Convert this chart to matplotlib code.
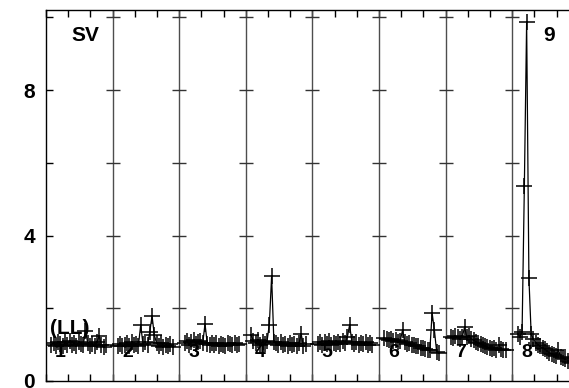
import numpy as np
import matplotlib
matplotlib.use("Agg")
import matplotlib.pyplot as plt

plt.rcParams['font.family'] = ['Liberation Sans', 'DejaVu Sans']
plt.rcParams['font.weight'] = 'bold'

# ---- data ----
seg_labels = ['1', '2', '3', '4', '5', '6', '7', '8']
seg1 = [1.00, 1.05, 0.97, 1.08, 1.02, 0.95, 1.06, 1.00, 1.10, 0.98, 1.04, 0.96, 1.07,
        1.01, 0.99, 1.37, 1.05, 0.97, 1.03, 0.95, 1.06, 1.24, 0.98, 0.94, 1.00]
seg2 = [0.97, 1.02, 0.95, 1.00, 1.04, 0.96, 1.06, 0.99, 1.03, 0.97, 1.54, 1.02, 1.08,
        0.98, 1.35, 1.79, 1.26, 1.04, 0.96, 1.05, 0.93, 0.99, 0.95, 1.01, 0.94]
seg3 = [1.05, 1.10, 1.00, 1.08, 1.12, 1.02, 1.07, 1.11, 1.04, 1.57, 1.03, 0.98, 1.05,
        0.99, 1.04, 0.97, 1.03, 1.00, 0.96, 1.05, 1.01, 0.98, 1.04, 1.00, 1.02]
seg4 = [1.26, 1.10, 1.05, 1.12, 1.00, 1.08, 1.03, 1.10, 1.55, 2.88, 1.08, 1.04, 0.98,
        1.06, 1.00, 1.03, 0.97, 1.05, 0.99, 1.02, 0.96, 1.04, 1.29, 0.95, 1.01]
seg5 = [1.03, 1.08, 1.00, 1.06, 1.02, 1.09, 0.99, 1.05, 1.01, 1.07, 1.03, 1.10, 1.04,
        1.20, 1.54, 1.08, 1.02, 1.06, 0.99, 1.05, 1.01, 1.07, 0.98, 1.04, 1.00]
seg6 = [1.18, 1.15, 1.12, 1.16, 1.10, 1.13, 1.08, 1.11, 1.40, 1.07, 1.03, 1.05, 1.00,
        0.98, 0.95, 0.97, 0.92, 0.90, 0.88, 0.86, 0.84, 1.87, 1.40, 0.80, 0.78]
seg7 = [1.22, 1.18, 1.25, 1.20, 1.15, 1.22, 1.48, 1.20, 1.25, 1.15, 1.12, 1.08, 1.05,
        1.02, 0.98, 0.95, 0.93, 0.90, 0.88, 0.92, 0.86, 1.00, 0.88, 0.84, 0.86]
seg8 = [1.30, 1.22, 1.35, 5.36, 9.86, 2.83, 1.28, 1.15, 1.05, 1.00, 0.95, 0.90, 0.88,
        0.82, 0.78, 0.75, 0.72, 0.70, 0.85, 0.66, 0.62, 0.60, 0.56, 0.52, 0.50]
segments = [seg1, seg2, seg3, seg4, seg5, seg6, seg7, seg8]
ytick_vals = [0, 2, 4, 6, 8, 10]
ytick_labels = ['0', '', '4', '', '8', '']

# ---- figure ----
W, H = 569, 388
fig = plt.figure(figsize=(W / 100, H / 100), dpi=100)
ax = fig.add_axes([46 / W, 7 / H, 1 - 46 / W, (381 - 10) / H])
xmax = (W - 46) / 66.6
ax.set_xlim(0, xmax)
ax.set_ylim(0, 10.2)

# segment numbers (under the data)
for k, lab in enumerate(seg_labels):
    ax.text(k + 0.22, 0.78, lab, ha='center', va='center', fontsize=14, fontweight='bold', zorder=1)

for k, seg in enumerate(segments):
    off = np.linspace(0.08, 0.90, len(seg))
    ax.plot(k + off, seg, color='black', lw=0.9, marker='+', ms=11, mew=1.1, zorder=3)

# segment boundaries with cross ticks
for b in range(1, 8):
    ax.axvline(b, color='#4d4d4d', lw=1.0, zorder=2)
    ax.plot([b] * len(ytick_vals[1:]), ytick_vals[1:], ls='none', marker='_', ms=10,
            mew=1.0, color='#333333', zorder=2)

ax.text(0.585, 9.5, 'SV', ha='center', va='center', fontsize=15, fontweight='bold')
ax.text(7.55, 9.5, '9', ha='center', va='center', fontsize=15, fontweight='bold')
ax.text(0.36, 1.45, '(LL)', ha='center', va='center', fontsize=15, fontweight='bold', zorder=4)

# axes styling
for s in ['top', 'bottom', 'left']:
    ax.spines[s].set_linewidth(1.0)
ax.spines['right'].set_visible(False)
ax.set_yticks(ytick_vals)
ax.set_yticklabels(ytick_labels)
ax.set_xticks(np.arange(0, xmax, 1 / 3))
ax.set_xticklabels([])
ax.tick_params(axis='x', direction='in', length=5, width=1, top=True, bottom=True)
ax.tick_params(axis='y', direction='in', length=5, width=1, left=True, right=False,
               labelsize=15, pad=8)
for t in ax.get_yticklabels():
    t.set_fontweight('bold')

fig.savefig('out.png', dpi=100)
